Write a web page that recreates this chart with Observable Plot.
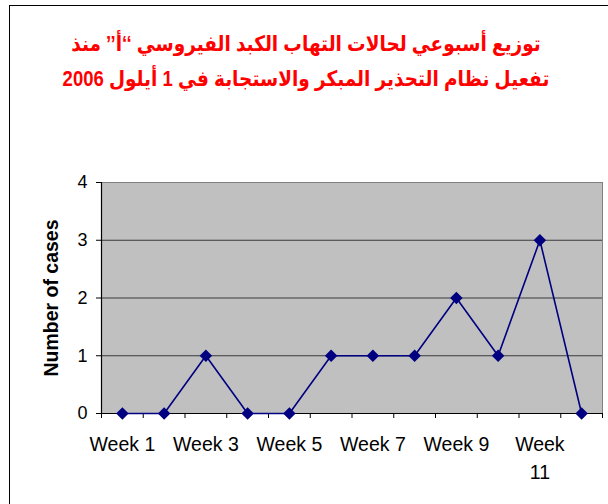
<!DOCTYPE html>
<html>
<head>
<meta charset="utf-8">
<script src="https://cdn.jsdelivr.net/npm/d3@7"></script>
<script src="https://cdn.jsdelivr.net/npm/@observablehq/plot@0.6"></script>
<style>
  body { margin: 0; background: #fff; width: 608px; height: 504px; overflow: hidden; position: relative; }
  #frame { position: absolute; left: 9px; top: 5px; width: 700px; height: 600px; border: 1.5px solid #000; }
  #title { position: absolute; left: 0; top: 27px; width: 612px; text-align: center; direction: rtl;
           color: #ff0000; font: bold 18.5px Arial, "Liberation Sans", "DejaVu Sans", sans-serif; line-height: 30px;
           transform: scaleY(1.15); transform-origin: 50% 0; }
  #chart { position: absolute; left: 0; top: 0; }
</style>
</head>
<body>
<div id="frame"></div>
<div id="chart"></div>
<div id="title">توزيع أسبوعي لحالات التهاب الكبد الفيروسي ‘‘أ’’ منذ<br>تفعيل نظام التحذير المبكر والاستجابة في 1 أيلول 2006</div>
<script>
const weeks = ["Week 1","Week 2","Week 3","Week 4","Week 5","Week 6","Week 7","Week 8","Week 9","Week 10","Week 11","Week 12"];
const cases = [0, 0, 1, 0, 0, 1, 1, 1, 2, 1, 3, 0];
const labelledWeeks = ["Week 1","Week 3","Week 5","Week 7","Week 9","Week 11"];
const yTicks = [0, 1, 2, 3, 4];
const gridValues = [1, 2, 3];

const data = weeks.map((w, i) => ({i, week: w, cases: cases[i]}));
const font = "Arial, 'Liberation Sans', sans-serif";

const chart = Plot.plot({
  width: 608,
  height: 504,
  marginLeft: 101,
  marginRight: 6,
  marginTop: 182,
  marginBottom: 91,
  style: {background: "transparent", fontFamily: font, color: "#000", overflow: "visible"},
  x: {domain: [-0.5, weeks.length - 0.5]},
  y: {domain: [0, 4]},
  marks: [
    Plot.frame({fill: "#c0c0c0", stroke: "#808080"}),
    Plot.ruleY(gridValues, {stroke: "#3a3a3a", strokeWidth: 1}),
    Plot.ruleY([0], {stroke: "#000", strokeWidth: 1.2}),
    Plot.ruleX([-0.5], {stroke: "#000", strokeWidth: 1.2}),
    Plot.axisY({ticks: yTicks, tickSize: 5, tickPadding: 9, fontSize: 18, label: null, tickFormat: d => String(d)}),
    Plot.axisY({ticks: [], label: "Number of cases", labelAnchor: "center", labelArrow: "none", labelOffset: 57, fontSize: 19.5, fontWeight: "bold"}),
    Plot.axisX({ticks: d3.range(-0.5, weeks.length, 1), tickSize: 5, tickFormat: () => "", label: null}),
    Plot.axisX({ticks: labelledWeeks.map(w => weeks.indexOf(w)), tickSize: 0, tickPadding: 17, fontSize: 19.5,
                tickFormat: i => weeks[i], lineWidth: 3.7, lineHeight: 1.45, label: null}),
    Plot.line(data, {x: "i", y: "cases", stroke: "#000080", strokeWidth: 1.6}),
    Plot.dot(data, {x: "i", y: "cases", symbol: "square", r: 5, rotate: 45, fill: "#000080", stroke: "none"})
  ]
});
document.getElementById("chart").appendChild(chart);
</script>
</body>
</html>
